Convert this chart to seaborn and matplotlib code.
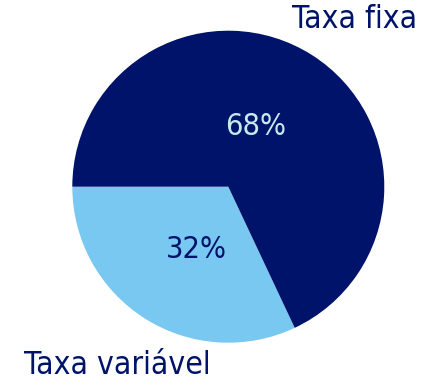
import matplotlib
matplotlib.use("Agg")
import matplotlib.pyplot as plt
from matplotlib.font_manager import FontProperties
import seaborn as sns

# Share of debt by rate type
categories = ["Taxa variável", "Taxa fixa"]
shares = [32, 68]
pct_labels = ["32%", "68%"]

sns.set_theme(style="white")
plt.rcParams["font.family"] = ["DejaVu Sans"]

navy = "#00136A"
sky = "#79C8F2"
palette = sns.color_palette([sky, navy])

W, H = 427, 382
fig = plt.figure(figsize=(W / 100, H / 100), dpi=100)
fig.patch.set_facecolor("white")

# axes box holding the unit-radius pie
cx, cy, r = 228.3, 186.7, 156.0
ax = fig.add_axes([(cx - r) / W, (H - cy - r) / H, 2 * r / W, 2 * r / H])

wedges, texts, autotexts = ax.pie(
    shares,
    labels=categories,
    colors=palette,
    startangle=180,
    counterclock=True,
    radius=1.0,
    autopct=lambda p: f"{p:.0f}%",
    pctdistance=0.45,
    wedgeprops=dict(linewidth=0),
)
ax.set_xlim(-1, 1)
ax.set_ylim(-1, 1)
ax.set_aspect("equal")
ax.axis("off")

font = dict(family="DejaVu Sans", stretch="condensed")

# category labels
label_pos = {"Taxa variável": (-0.713, -1.143), "Taxa fixa": (0.812, 1.069)}
for t in texts:
    t.set_position(label_pos[t.get_text()])
    t.set_ha("center")
    t.set_va("center")
    t.set_color(navy)
    t.set_fontproperties(FontProperties(size=22.8, **font))

# percentage labels
pct_pos = [(-0.207, -0.40), (0.178, 0.389)]
pct_colors = [navy, "#C4ECEE"]
for t, lbl, pos, c in zip(autotexts, pct_labels, pct_pos, pct_colors):
    t.set_text(lbl)
    t.set_position(pos)
    t.set_ha("center")
    t.set_va("center")
    t.set_color(c)
    t.set_fontproperties(FontProperties(size=22, **font))

fig.savefig("out.png", dpi=100, facecolor="white")
